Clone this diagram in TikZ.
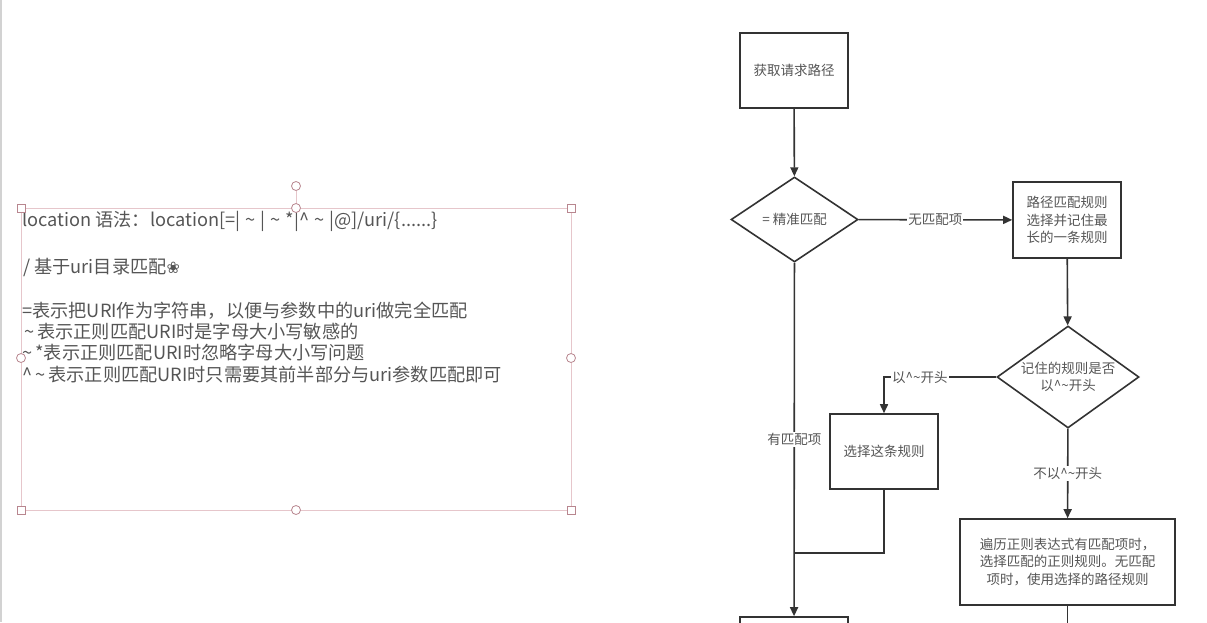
\documentclass[tikz,border=0pt]{standalone}
\usepackage{fontspec}
\setmainfont{Noto Sans CJK SC}
\newfontfamily\dingfont{DejaVu Sans}
\usetikzlibrary{shapes.geometric,arrows.meta}
\definecolor{inkgray}{HTML}{333333}
\definecolor{textgray}{HTML}{555555}
\definecolor{selpink}{HTML}{E6C6CB}
\definecolor{handlepink}{HTML}{B8868F}
\begin{document}
\begin{tikzpicture}[x=1pt, y=-1pt, >={Triangle[length=9pt,width=8pt]},
  box/.style={draw=inkgray, line width=1.6pt, text=textgray, align=center,
    font=\fontsize{13.5}{17.5}\selectfont, inner sep=2pt},
  decide/.style={box, diamond, aspect=1.4, inner sep=0pt},
  flow/.style={draw=inkgray, line width=1.6pt},
  lbl/.style={fill=white, text=textgray, inner sep=1pt, font=\fontsize{13.5}{15}\selectfont},
  note/.style={anchor=base west, inner sep=0pt, text=textgray, font=\fontsize{18.2}{21}\selectfont},
  selline/.style={draw=selpink, line width=0.8pt},
  selhandle/.style={draw=handlepink, fill=white, line width=0.8pt}]
  \useasboundingbox (0,0) rectangle (1207,622);
  \clip (0,0) rectangle (1207,622);
  \draw[gray!35, line width=2pt] (1,0) -- (1,622);

  % selected text frame on the left
  \draw[selline] (21,208) rectangle (571,510);
  \draw[selline] (296,208) -- (296,190.5);
  \node[note] (syntax) at (22,226.5) {location 语法：location[=|\;\textasciitilde\;|\;\textasciitilde\;*|\textasciicircum\;\textasciitilde\;|@]/uri/\{......\}};
  \node[note] (dirmatch) at (23,273.5) {/ 基于uri目录匹配{\dingfont\fontsize{16}{18}\selectfont ❀}};
  \node[note] (equal) at (22,317.5) {=表示把URI作为字符串，以便与参数中的uri做完全匹配};
  \node[note] (tilde) at (24,338.5) {\textasciitilde\,表示正则匹配URI时是字母大小写敏感的};
  \node[note] (tildestar) at (22,359.5) {\textasciitilde\,*表示正则匹配URI时忽略字母大小写问题};
  \node[note] (caretnote) at (22,381.5) {\textasciicircum\,\textasciitilde\,表示正则匹配URI时只需要其前半部分与uri参数匹配即可};
  \foreach \p in {(21,208),(571,208),(21,510),(571,510)}
    \draw[selhandle] \p ++(-4,-4) rectangle ++(8,8);
  \foreach \p in {(296,208),(21,358),(571,358),(296,510),(296,186)}
    \draw[selhandle] \p circle (4.5);

  % flow chart
  \node[box, minimum width=108pt, minimum height=75pt] (get) at (794,70.5) {获取请求路径};
  \node[decide, minimum width=127pt, minimum height=85pt] (exact) at (794.5,219.5) {= 精准匹配};
  \node[box, minimum width=108pt, minimum height=76pt] (prefix) at (1067,220) {路径匹配规则\\选择并记住最\\长的一条规则};
  \node[decide, minimum width=142pt, minimum height=102pt] (caret) at (1068,377) {记住的规则是否\\以\textasciicircum\textasciitilde 开头};
  \node[box, minimum width=108pt, minimum height=75pt] (pick) at (884,451.5) {选择这条规则};
  \node[box, minimum width=215pt, minimum height=86pt] (regex) at (1067.5,562) {遍历正则表达式有匹配项时，\\选择匹配的正则规则。无匹配\\项时，使用选择的路径规则};
  \node[box, minimum width=108pt, minimum height=75pt] (final) at (794,654.5) {};
  \coordinate (join) at (794,553);
  \coordinate (exit) at (1067.5,640);

  \draw[flow,->] (get) -- (exact);
  \draw[flow,->] (exact) -- node[lbl] {无匹配项} (prefix);
  \draw[flow,->] (prefix) -- (caret);
  \draw[flow,->] (caret.west) -| node[lbl, pos=0.34] {以\textasciicircum\textasciitilde 开头} (pick);
  \draw[flow,->] (caret) -- node[lbl] {不以\textasciicircum\textasciitilde 开头} (regex);
  \draw[flow] (pick.south) |- (join);
  \draw[flow,->] (exact) -- node[lbl] {有匹配项} (final);
  \draw[flow] (regex.south) -- (exit);
\end{tikzpicture}
\end{document}
